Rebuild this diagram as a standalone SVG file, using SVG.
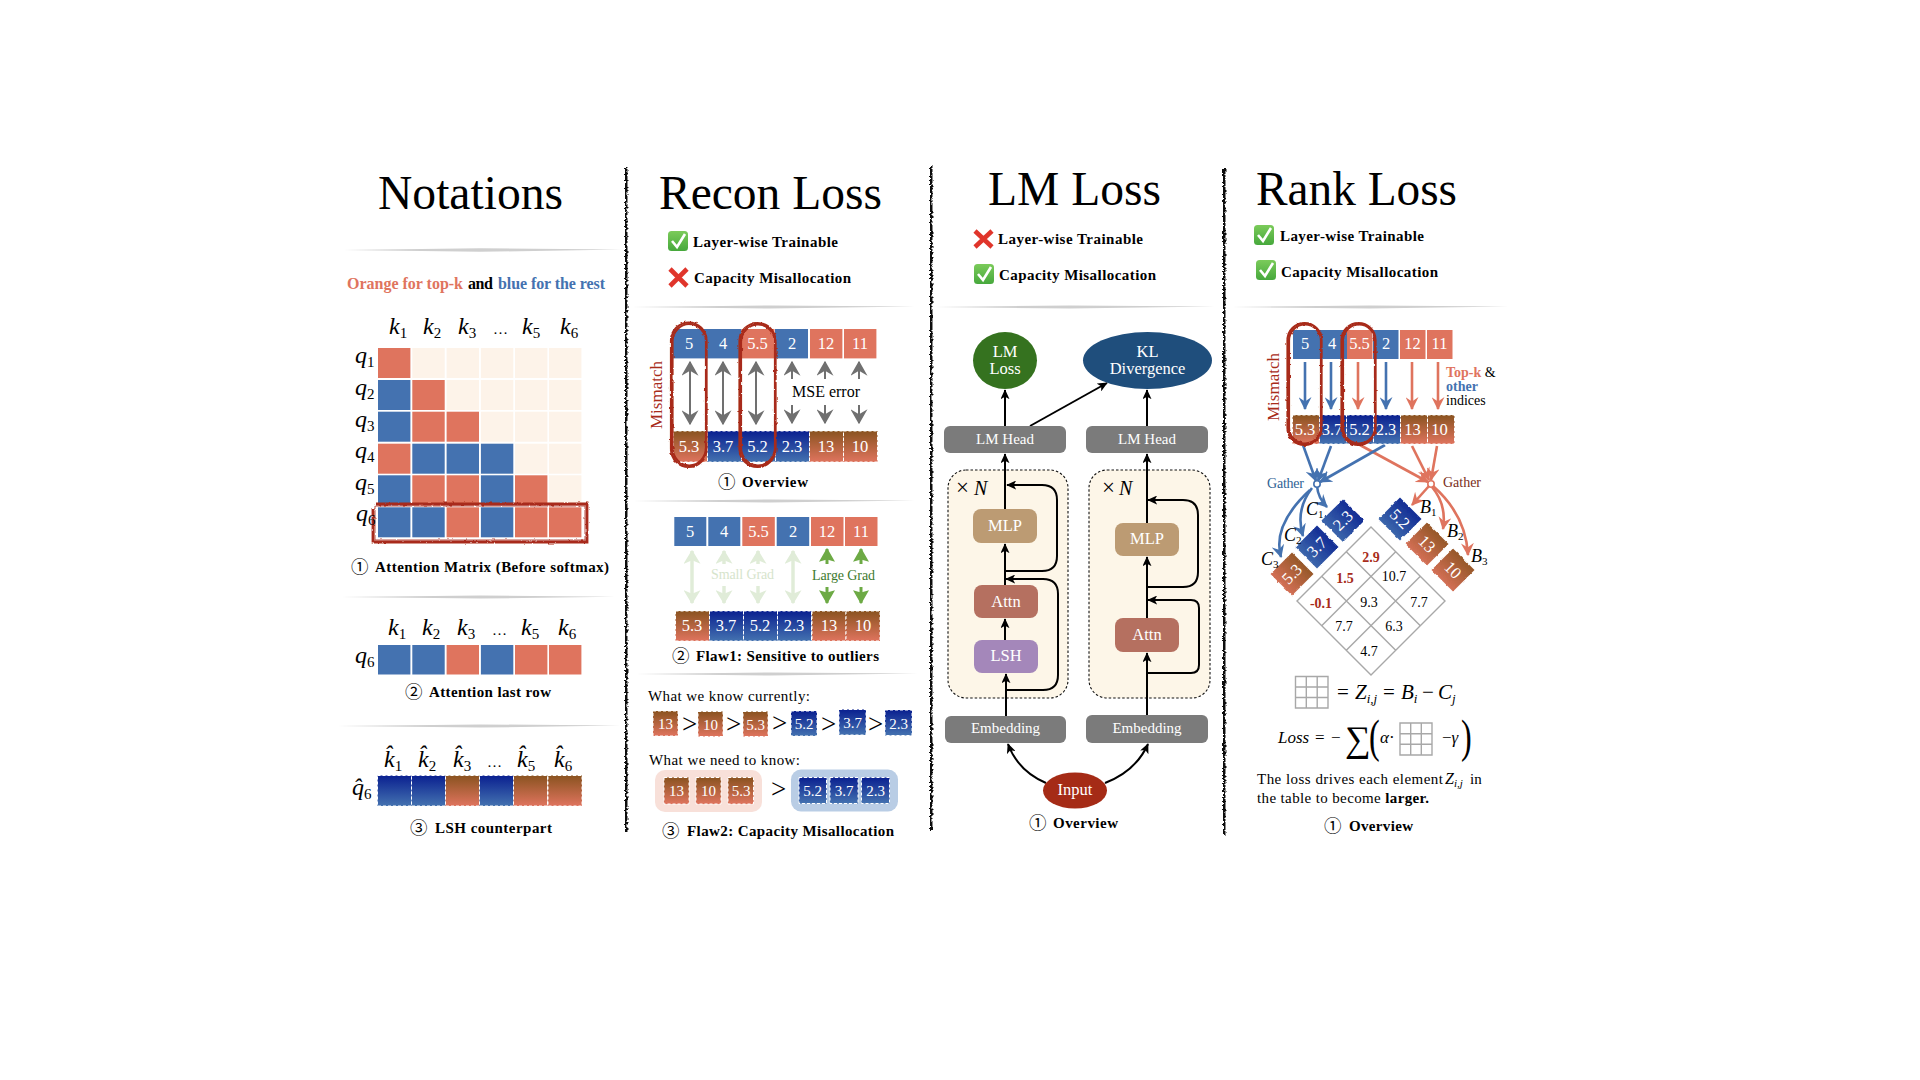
<svg xmlns="http://www.w3.org/2000/svg" width="1920" height="1080" viewBox="0 0 1920 1080">
<defs>
<style>
text{font-family:"Liberation Serif","Noto Sans CJK SC",serif;fill:#000}
.t{font-size:48px}
.b{font-size:15px;font-weight:bold}
.n{font-family:"Noto Sans CJK SC","Liberation Serif",sans-serif;font-size:17.5px}
.r{font-size:15px}
.m{font-size:24px;font-style:italic}
.ms{font-size:15px;font-style:normal}
.w{fill:#fff;text-anchor:middle;font-size:16.5px}
.wb{fill:#fff;text-anchor:middle;font-size:15px}
.o{fill:#DF745E}.bl{fill:#4472B0}.cr{fill:#FDF3E9}
.go{fill:url(#gO);stroke:#fff;stroke-width:1;stroke-dasharray:3 2}
.gb{fill:url(#gB);stroke:#fff;stroke-width:1;stroke-dasharray:3 2}
.do{fill:url(#dO)}.db{fill:url(#dB)}
.box{fill:#7B7B7B}
.cont{fill:#FDF6E8;stroke:#111;stroke-width:1.1;stroke-dasharray:2.5 2}
.conn{fill:none;stroke:#000;stroke-width:2;marker-end:url(#mK)}
.g{stroke:#707070;stroke-width:2;fill:none;marker-end:url(#mG)}
.gd{stroke:#707070;stroke-width:2;fill:none;marker-end:url(#mG);marker-start:url(#mG)}
.lg{stroke:#E0ECD8;stroke-width:3.5;fill:none;marker-end:url(#mL)}
.lgd{stroke:#E0ECD8;stroke-width:3.5;fill:none;marker-end:url(#mL);marker-start:url(#mL)}
.dg{stroke:#6DAA45;stroke-width:3;fill:none;marker-end:url(#mD)}
.ab{stroke:#4472B0;stroke-width:2.6;fill:none;marker-end:url(#mB)}
.ao{stroke:#DF745E;stroke-width:2.6;fill:none;marker-end:url(#mO)}
.loop{fill:none;stroke:#A82C1A;stroke-width:2.2}
.gl{stroke:#A8A8A8;stroke-width:1.4;fill:none}
.d{font-size:14px;text-anchor:middle}
.dr{font-size:14px;text-anchor:middle;font-weight:bold;fill:#A82C1A}
</style>
<linearGradient id="gO" x1="0" y1="0" x2="0" y2="1"><stop offset="0" stop-color="#8A5320"/><stop offset="1" stop-color="#DF745E"/></linearGradient>
<linearGradient id="gB" x1="0" y1="0" x2="0" y2="1"><stop offset="0" stop-color="#0A2090"/><stop offset="1" stop-color="#4472B0"/></linearGradient>
<linearGradient id="dO" x1="0.85" y1="0.15" x2="0.15" y2="0.85"><stop offset="0" stop-color="#8A5320"/><stop offset="1" stop-color="#DF745E"/></linearGradient>
<linearGradient id="dB" x1="0.85" y1="0.15" x2="0.15" y2="0.85"><stop offset="0" stop-color="#0A2090"/><stop offset="1" stop-color="#4472B0"/></linearGradient>
<linearGradient id="chk" x1="0" y1="0" x2="0" y2="1"><stop offset="0" stop-color="#7BCB5A"/><stop offset="1" stop-color="#46A83C"/></linearGradient>
<marker id="mK" markerUnits="userSpaceOnUse" viewBox="0 0 12 10" refX="11" refY="5" markerWidth="10" markerHeight="9" orient="auto-start-reverse" preserveAspectRatio="none"><path d="M12,5 L0,0 L3,5 L0,10 Z" fill="#000"/></marker>
<marker id="mG" markerUnits="userSpaceOnUse" viewBox="0 0 12 10" refX="11" refY="5" markerWidth="15" markerHeight="17" orient="auto-start-reverse" preserveAspectRatio="none"><path d="M12,5 L0,0 L4,5 L0,10 Z" fill="#707070"/></marker>
<marker id="mL" markerUnits="userSpaceOnUse" viewBox="0 0 12 10" refX="11" refY="5" markerWidth="14" markerHeight="17" orient="auto-start-reverse" preserveAspectRatio="none"><path d="M12,5 L0,0 L3,5 L0,10 Z" fill="#E0ECD8"/></marker>
<marker id="mD" markerUnits="userSpaceOnUse" viewBox="0 0 12 10" refX="11" refY="5" markerWidth="14" markerHeight="16" orient="auto-start-reverse" preserveAspectRatio="none"><path d="M12,5 L0,0 L2,5 L0,10 Z" fill="#6DAA45"/></marker>
<marker id="mB" markerUnits="userSpaceOnUse" viewBox="0 0 12 10" refX="11" refY="5" markerWidth="13" markerHeight="13" orient="auto" preserveAspectRatio="none"><path d="M12,5 L0,0 L4,5 L0,10 Z" fill="#4472B0"/></marker>
<marker id="mO" markerUnits="userSpaceOnUse" viewBox="0 0 12 10" refX="11" refY="5" markerWidth="13" markerHeight="13" orient="auto" preserveAspectRatio="none"><path d="M12,5 L0,0 L4,5 L0,10 Z" fill="#DF745E"/></marker>
<filter id="rough" filterUnits="userSpaceOnUse" x="0" y="0" width="1920" height="1080"><feTurbulence type="fractalNoise" baseFrequency="0.25 0.25" numOctaves="2" seed="3"/><feDisplacementMap in="SourceGraphic" scale="2.5" xChannelSelector="R" yChannelSelector="G"/></filter>
<filter id="bar" filterUnits="userSpaceOnUse" x="0" y="0" width="1920" height="1080"><feTurbulence type="fractalNoise" baseFrequency="0.2 0.5" numOctaves="3" seed="8"/><feDisplacementMap in="SourceGraphic" scale="4" xChannelSelector="R" yChannelSelector="G"/></filter>
<filter id="soft" filterUnits="userSpaceOnUse" x="0" y="0" width="1920" height="1080"><feGaussianBlur stdDeviation="0.7"/></filter>
</defs>
<rect width="1920" height="1080" fill="#fff"/>

<g id="panel-rules" filter="url(#bar)" fill="#111">
<rect x="625" y="168" width="2.5" height="665"/>
<rect x="930" y="165" width="2.5" height="665"/>
<rect x="1223" y="168" width="2.5" height="667"/>
</g>
<g id="dividers" filter="url(#soft)" fill="#CFCFCF">
<path d="M343,250 L480,248.3 L622,249.6 L480,251.8Z"/>
<path d="M341,597 L480,595.4 L615,596.8 L480,598.6Z"/>
<path d="M337,726 L480,724.4 L620,725.6 L480,727.6Z"/>
<path d="M632,307 L770,305.4 L915,306.6 L770,308.6Z"/>
<path d="M633,501 L770,499.4 L915,500.6 L770,502.6Z"/>
<path d="M636,674 L770,672.4 L918,673.6 L770,675.6Z"/>
<path d="M935,307 L1070,305.4 L1215,306.6 L1070,308.6Z"/>
<path d="M1232,307 L1370,305.4 L1508,306.6 L1370,308.6Z"/>
</g>

<g id="notations">
<text class="t" x="378" y="209" textLength="185" lengthAdjust="spacingAndGlyphs">Notations</text>
<text class="b" x="347" y="289" font-size="16" textLength="116" style="fill:#DF745E;font-size:16px">Orange for top-k</text>
<text class="b" x="468" y="289" textLength="25" style="font-size:16px">and</text>
<text class="b" x="498" y="289" textLength="107" style="fill:#4472B0;font-size:16px">blue for the rest</text>

<g id="matrix">
<rect class="o" x="378" y="348" width="32.4" height="30"/><rect class="cr" x="412.3" y="348" width="32.4" height="30"/><rect class="cr" x="446.6" y="348" width="32.4" height="30"/><rect class="cr" x="480.9" y="348" width="32.4" height="30"/><rect class="cr" x="515" y="348" width="32.4" height="30"/><rect class="cr" x="549" y="348" width="32.4" height="30"/>
<rect class="bl" x="378" y="380" width="32.4" height="30"/><rect class="o" x="412.3" y="380" width="32.4" height="30"/><rect class="cr" x="446.6" y="380" width="32.4" height="30"/><rect class="cr" x="480.9" y="380" width="32.4" height="30"/><rect class="cr" x="515" y="380" width="32.4" height="30"/><rect class="cr" x="549" y="380" width="32.4" height="30"/>
<rect class="bl" x="378" y="411.7" width="32.4" height="30"/><rect class="o" x="412.3" y="411.7" width="32.4" height="30"/><rect class="o" x="446.6" y="411.7" width="32.4" height="30"/><rect class="cr" x="480.9" y="411.7" width="32.4" height="30"/><rect class="cr" x="515" y="411.7" width="32.4" height="30"/><rect class="cr" x="549" y="411.7" width="32.4" height="30"/>
<rect class="o" x="378" y="443.7" width="32.4" height="30"/><rect class="bl" x="412.3" y="443.7" width="32.4" height="30"/><rect class="bl" x="446.6" y="443.7" width="32.4" height="30"/><rect class="bl" x="480.9" y="443.7" width="32.4" height="30"/><rect class="cr" x="515" y="443.7" width="32.4" height="30"/><rect class="cr" x="549" y="443.7" width="32.4" height="30"/>
<rect class="bl" x="378" y="475.3" width="32.4" height="30"/><rect class="o" x="412.3" y="475.3" width="32.4" height="30"/><rect class="o" x="446.6" y="475.3" width="32.4" height="30"/><rect class="bl" x="480.9" y="475.3" width="32.4" height="30"/><rect class="o" x="515" y="475.3" width="32.4" height="30"/><rect class="cr" x="549" y="475.3" width="32.4" height="30"/>
<rect class="bl" x="378" y="507.3" width="32.4" height="30"/><rect class="bl" x="412.3" y="507.3" width="32.4" height="30"/><rect class="o" x="446.6" y="507.3" width="32.4" height="30"/><rect class="bl" x="480.9" y="507.3" width="32.4" height="30"/><rect class="o" x="515" y="507.3" width="32.4" height="30"/><rect class="o" x="549" y="507.3" width="32.4" height="30"/>
<g filter="url(#rough)" fill="none" stroke="#A82C1A"><path d="M376,504 H587 V542 H373 V508" stroke-width="2.8"/><rect x="375" y="506" width="210" height="34" stroke-width="0.8"/></g>
</g>
<text class="m" x="389" y="334">k<tspan class="ms" dy="4">1</tspan></text>
<text class="m" x="423" y="334">k<tspan class="ms" dy="4">2</tspan></text>
<text class="m" x="458" y="334">k<tspan class="ms" dy="4">3</tspan></text>
<text x="493" y="334" style="font-size:15px">…</text>
<text class="m" x="522" y="334">k<tspan class="ms" dy="4">5</tspan></text>
<text class="m" x="560" y="334">k<tspan class="ms" dy="4">6</tspan></text>
<text class="m" x="355" y="363">q<tspan class="ms" dy="4">1</tspan></text>
<text class="m" x="355" y="395">q<tspan class="ms" dy="4">2</tspan></text>
<text class="m" x="355" y="427">q<tspan class="ms" dy="4">3</tspan></text>
<text class="m" x="355" y="458">q<tspan class="ms" dy="4">4</tspan></text>
<text class="m" x="355" y="490">q<tspan class="ms" dy="4">5</tspan></text>
<text class="m" x="356" y="521">q<tspan class="ms" dy="4">6</tspan></text>
<text class="n" x="351" y="573">①</text>
<text class="b" x="375" y="572" textLength="234">Attention Matrix (Before softmax)</text>

<text class="m" x="388" y="635">k<tspan class="ms" dy="4">1</tspan></text>
<text class="m" x="422" y="635">k<tspan class="ms" dy="4">2</tspan></text>
<text class="m" x="457" y="635">k<tspan class="ms" dy="4">3</tspan></text>
<text x="492" y="635" style="font-size:15px">…</text>
<text class="m" x="521" y="635">k<tspan class="ms" dy="4">5</tspan></text>
<text class="m" x="558" y="635">k<tspan class="ms" dy="4">6</tspan></text>
<text class="m" x="355" y="663">q<tspan class="ms" dy="4">6</tspan></text>
<g id="last-row">
<rect class="bl" x="378" y="645" width="32.4" height="29.5"/><rect class="bl" x="412.3" y="645" width="32.4" height="29.5"/><rect class="o" x="446.6" y="645" width="32.4" height="29.5"/><rect class="bl" x="480.9" y="645" width="32.4" height="29.5"/><rect class="o" x="515" y="645" width="32.4" height="29.5"/><rect class="o" x="549" y="645" width="32.4" height="29.5"/>
</g>
<text class="n" x="405" y="698">②</text>
<text class="b" x="429" y="697" textLength="122">Attention last row</text>

<text class="m" x="384" y="767">k̂<tspan class="ms" dy="4">1</tspan></text>
<text class="m" x="418" y="767">k̂<tspan class="ms" dy="4">2</tspan></text>
<text class="m" x="453" y="767">k̂<tspan class="ms" dy="4">3</tspan></text>
<text x="487" y="767" style="font-size:15px">…</text>
<text class="m" x="517" y="767">k̂<tspan class="ms" dy="4">5</tspan></text>
<text class="m" x="554" y="767">k̂<tspan class="ms" dy="4">6</tspan></text>
<text class="m" x="352" y="795">q̂<tspan class="ms" dy="4">6</tspan></text>
<g id="lsh-row">
<rect class="gb" x="377.5" y="775.5" width="34" height="30.5"/><rect class="gb" x="411.5" y="775.5" width="34" height="30.5"/><rect class="go" x="445.5" y="775.5" width="34" height="30.5"/><rect class="gb" x="479.5" y="775.5" width="34" height="30.5"/><rect class="go" x="513.5" y="775.5" width="34" height="30.5"/><rect class="go" x="548" y="775.5" width="34" height="30.5"/>
</g>
<text class="n" x="410" y="834">③</text>
<text class="b" x="435" y="833" textLength="117">LSH counterpart</text>
</g>

<g id="recon-loss">
<text class="t" x="659" y="209" textLength="223" lengthAdjust="spacingAndGlyphs">Recon Loss</text>
<g id="rc-check"><rect x="668" y="231" width="20" height="20" rx="3.5" fill="url(#chk)"/><path d="M672,241 L677,247 L685,234" fill="none" stroke="#fff" stroke-width="2.6"/></g>
<text class="b" x="693" y="247" textLength="145">Layer-wise Trainable</text>
<g id="rc-cross" stroke="#E0352B" stroke-width="4.6"><path d="M670,269 L687,286 M687,269 L670,286"/></g>
<text class="b" x="694" y="283" textLength="157">Capacity Misallocation</text>

<g id="rc-overview">
<rect class="bl" x="673" y="329" width="33" height="29.4"/><rect class="bl" x="706" y="329" width="35.5" height="29.4"/><rect class="o" x="741.5" y="329" width="33" height="29.4"/><rect class="bl" x="775" y="329" width="33" height="29.4"/><rect class="o" x="810" y="329" width="32.4" height="29.4"/><rect class="o" x="844" y="329" width="32.4" height="29.4"/>
<text class="w" x="689" y="349">5</text><text class="w" x="723" y="349">4</text><text class="w" x="757.5" y="349">5.5</text><text class="w" x="792" y="349">2</text><text class="w" x="826" y="349">12</text><text class="w" x="860" y="349">11</text>
<rect class="go" x="673.5" y="431" width="34" height="31"/><rect class="gb" x="707.5" y="431" width="34" height="31"/><rect class="gb" x="741.5" y="431" width="34" height="31"/><rect class="gb" x="775.5" y="431" width="34" height="31"/><rect class="go" x="809.5" y="431" width="34" height="31"/><rect class="go" x="843.5" y="431" width="34" height="31"/>
<text class="w" x="689" y="452">5.3</text><text class="w" x="723" y="452">3.7</text><text class="w" x="757.5" y="452">5.2</text><text class="w" x="792" y="452">2.3</text><text class="w" x="826" y="452">13</text><text class="w" x="860" y="452">10</text>
<g id="rc-arrows">
<path class="gd" d="M690,362 V424"/><path class="gd" d="M723,362 V424"/><path class="gd" d="M756,362 V424"/>
<path class="g" d="M792,379 V362"/><path class="g" d="M825,379 V362"/><path class="g" d="M859,379 V362"/>
<path class="g" d="M792,405 V423"/><path class="g" d="M825,405 V423"/><path class="g" d="M859,405 V423"/>
</g>
<text x="792" y="397" font-size="16" textLength="68">MSE error</text>
<g filter="url(#rough)"><rect class="loop" x="671" y="322.5" width="35.5" height="144.5" rx="18"/><rect class="loop" x="672.5" y="324" width="33.5" height="141.5" rx="18"/><rect class="loop" x="739.5" y="323" width="36" height="144" rx="18"/><rect class="loop" x="741" y="324.5" width="34" height="141" rx="18"/></g>
<text transform="translate(662,395) rotate(-90)" font-size="17" text-anchor="middle" style="fill:#A82C1A">Mismatch</text>
<text class="n" x="718" y="488">①</text>
<text class="b" x="742" y="487" textLength="66">Overview</text>
</g>

<g id="rc-flaw1">
<rect class="bl" x="674.3" y="517" width="32" height="29"/><rect class="bl" x="708.3" y="517" width="32" height="29"/><rect class="o" x="742.3" y="517" width="32.5" height="29"/><rect class="bl" x="776.7" y="517" width="32.5" height="29"/><rect class="o" x="811" y="517" width="32.5" height="29"/><rect class="o" x="845" y="517" width="32.5" height="29"/>
<text class="w" x="690" y="537">5</text><text class="w" x="724" y="537">4</text><text class="w" x="758.5" y="537">5.5</text><text class="w" x="793" y="537">2</text><text class="w" x="827" y="537">12</text><text class="w" x="861" y="537">11</text>
<rect class="go" x="675.5" y="611" width="34" height="30"/><rect class="gb" x="709.5" y="611" width="34" height="30"/><rect class="gb" x="743.5" y="611" width="34" height="30"/><rect class="gb" x="777.5" y="611" width="34" height="30"/><rect class="go" x="812" y="611" width="34" height="30"/><rect class="go" x="846" y="611" width="34" height="30"/>
<text class="w" x="692" y="631">5.3</text><text class="w" x="726" y="631">3.7</text><text class="w" x="760" y="631">5.2</text><text class="w" x="794" y="631">2.3</text><text class="w" x="829" y="631">13</text><text class="w" x="863" y="631">10</text>
<g id="rc-grad-arrows">
<path class="lgd" d="M692,551 V603"/><path class="lgd" d="M793,551 V603"/>
<path class="lg" d="M724,564 V551"/><path class="lg" d="M724,586 V603"/>
<path class="lg" d="M758,564 V551"/><path class="lg" d="M758,586 V603"/>
<path class="dg" d="M827,564 V549"/><path class="dg" d="M827,587 V603"/>
<path class="dg" d="M861,564 V549"/><path class="dg" d="M861,587 V603"/>
</g>
<text x="711" y="579" font-size="14" textLength="63" style="fill:#D6E4CC">Small Grad</text>
<text x="812" y="580" font-size="14" textLength="63" style="fill:#3E7A2E">Large Grad</text>
<text class="n" x="672" y="662">②</text>
<text class="b" x="696" y="661" textLength="183">Flaw1: Sensitive to outliers</text>
</g>

<g id="rc-flaw2">
<text class="r" x="648" y="701" textLength="162">What we know currently:</text>
<rect class="go" x="653" y="711" width="25" height="25"/><text class="wb" x="665.5" y="729">13</text>
<text x="682" y="733" font-size="27">&gt;</text>
<rect class="go" x="698" y="711.5" width="25" height="25"/><text class="wb" x="710.5" y="730">10</text>
<text x="726" y="733" font-size="27">&gt;</text>
<rect class="go" x="743" y="711.5" width="25" height="25"/><text class="wb" x="755.5" y="730">5.3</text>
<text x="772" y="732" font-size="27">&gt;</text>
<rect class="gb" x="791" y="711" width="26" height="25"/><text class="wb" x="804" y="729">5.2</text>
<text x="821" y="733" font-size="27">&gt;</text>
<rect class="gb" x="839" y="709.5" width="27" height="25.5"/><text class="wb" x="852.5" y="728">3.7</text>
<text x="868" y="733" font-size="27">&gt;</text>
<rect class="gb" x="885" y="710" width="27" height="25.5"/><text class="wb" x="898.5" y="728.5">2.3</text>
<text class="r" x="649" y="765" textLength="151">What we need to know:</text>
<rect x="655" y="770" width="107" height="42" rx="10" fill="#F8E0D9"/>
<rect x="791" y="769.5" width="107" height="42" rx="10" fill="#B9CDE5"/>
<rect class="go" x="664" y="777.5" width="25" height="26.5"/><text class="wb" x="676.5" y="796">13</text>
<rect class="go" x="696" y="777.5" width="25" height="26.5"/><text class="wb" x="708.5" y="796">10</text>
<rect class="go" x="728" y="777.5" width="25.5" height="26.5"/><text class="wb" x="741" y="796">5.3</text>
<text x="771" y="798" font-size="27">&gt;</text>
<rect class="gb" x="799" y="777.5" width="27.5" height="26"/><text class="wb" x="812.5" y="796">5.2</text>
<rect class="gb" x="830" y="777.5" width="28" height="26"/><text class="wb" x="844" y="796">3.7</text>
<rect class="gb" x="861.5" y="777.5" width="28" height="26"/><text class="wb" x="875.5" y="796">2.3</text>
<text class="n" x="662" y="837">③</text>
<text class="b" x="687" y="836" textLength="207">Flaw2: Capacity Misallocation</text>
</g>
</g>

<g id="lm-loss">
<text class="t" x="988" y="205" textLength="173" lengthAdjust="spacingAndGlyphs">LM Loss</text>
<g id="lm-cross" stroke="#E0352B" stroke-width="4.6"><path d="M975,231 L992,247 M992,231 L975,247"/></g>
<text class="b" x="998" y="244" textLength="145">Layer-wise Trainable</text>
<g id="lm-check"><rect x="974" y="264" width="20" height="20" rx="3.5" fill="url(#chk)"/><path d="M978,274 L983,280 L991,267" fill="none" stroke="#fff" stroke-width="2.6"/></g>
<text class="b" x="999" y="280" textLength="157">Capacity Misallocation</text>

<rect id="container-left" class="cont" x="948" y="470" width="120" height="228" rx="18"/>
<rect id="container-right" class="cont" x="1089" y="470" width="121" height="228" rx="18"/>
<text x="956" y="495" font-size="23">×</text><text x="974" y="495" font-size="20" font-style="italic">N</text>
<text x="1102" y="495" font-size="23">×</text><text x="1119" y="495" font-size="20" font-style="italic">N</text>

<g id="connectors">
<path class="conn" d="M1005,426 V390"/>
<path class="conn" d="M1147,426 V390"/>
<path class="conn" d="M1030,426 L1107,383"/>
<path class="conn" d="M1005,509 V454"/>
<path class="conn" d="M1147,523 V454"/>
<path class="conn" d="M1005,585 V544"/>
<path class="conn" d="M1005,640 V619"/>
<path class="conn" d="M1006,716 V674"/>
<path class="conn" d="M1147,618 V557"/>
<path class="conn" d="M1147,715 V653"/>
<path class="conn" d="M1005,571 H1042 Q1057,571 1057,556 V500 Q1057,485 1042,485 H1007"/>
<path class="conn" d="M1007,690 H1043 Q1058,690 1058,675 V594 Q1058,579 1043,579 H1006"/>
<path class="conn" d="M1147,587 H1183 Q1198,587 1198,572 V515 Q1198,500 1183,500 H1148"/>
<path class="conn" d="M1147,673 H1191 Q1199,673 1199,665 V608 Q1199,600 1191,600 H1148"/>
<path class="conn" d="M1046,783 Q1018,771 1008,744"/>
<path class="conn" d="M1105,783 Q1136,771 1148,744"/>
</g>

<g id="n-lmloss"><ellipse cx="1005" cy="360.5" rx="32" ry="28.5" fill="#35721F"/><text class="w" x="1005" y="357">LM</text><text class="w" x="1005" y="374">Loss</text></g>
<g id="n-kl"><ellipse cx="1147.5" cy="360.5" rx="64.5" ry="28.5" fill="#1F4E7C"/><text class="w" x="1147.5" y="357">KL</text><text class="w" x="1147.5" y="374">Divergence</text></g>
<g id="n-head1"><rect class="box" x="944" y="426" width="122" height="27" rx="6"/><text class="wb" x="1005" y="444">LM Head</text></g>
<g id="n-head2"><rect class="box" x="1086" y="426" width="122" height="27" rx="6"/><text class="wb" x="1147" y="444">LM Head</text></g>
<g id="n-mlp1"><rect x="973" y="509" width="64" height="34" rx="8" fill="#BC9B73"/><text class="w" x="1005" y="531">MLP</text></g>
<g id="n-attn1"><rect x="974" y="585" width="64" height="33" rx="8" fill="#B57060"/><text class="w" x="1006" y="607">Attn</text></g>
<g id="n-lsh"><rect x="974" y="640" width="64" height="33" rx="8" fill="#A487BA"/><text class="w" x="1006" y="661">LSH</text></g>
<g id="n-emb1"><rect class="box" x="945" y="716" width="121" height="27" rx="6"/><text class="wb" x="1005.5" y="733">Embedding</text></g>
<g id="n-mlp2"><rect x="1115" y="523" width="64" height="33" rx="8" fill="#BC9B73"/><text class="w" x="1147" y="544">MLP</text></g>
<g id="n-attn2"><rect x="1115" y="618" width="64" height="34" rx="8" fill="#B57060"/><text class="w" x="1147" y="640">Attn</text></g>
<g id="n-emb2"><rect class="box" x="1086" y="715" width="122" height="28" rx="6"/><text class="wb" x="1147" y="733">Embedding</text></g>
<g id="n-input"><ellipse cx="1075" cy="790.5" rx="32" ry="18" fill="#A52B16"/><text class="w" x="1075" y="795">Input</text></g>
<text class="n" x="1029" y="829">①</text>
<text class="b" x="1053" y="828" textLength="65">Overview</text>
</g>

<g id="rank-loss">
<text class="t" x="1256" y="205" textLength="201" lengthAdjust="spacingAndGlyphs">Rank Loss</text>
<g id="rk-check1"><rect x="1254" y="225" width="20" height="20" rx="3.5" fill="url(#chk)"/><path d="M1258,235 L1263,241 L1271,228" fill="none" stroke="#fff" stroke-width="2.6"/></g>
<text class="b" x="1280" y="241" textLength="144">Layer-wise Trainable</text>
<g id="rk-check2"><rect x="1256" y="260" width="20" height="20" rx="3.5" fill="url(#chk)"/><path d="M1260,270 L1265,276 L1273,263" fill="none" stroke="#fff" stroke-width="2.6"/></g>
<text class="b" x="1281" y="276.5" textLength="157">Capacity Misallocation</text>

<g id="rk-connectors">
<path class="ab" d="M1305,362 V409"/><path class="ab" d="M1331,362 V409"/><path class="ao" d="M1358,362 V409"/><path class="ab" d="M1386,362 V409"/><path class="ao" d="M1412,362 V409"/><path class="ao" d="M1438,362 V409"/>
<path class="ao" d="M1360,445 L1428,482"/><path class="ao" d="M1412,446 L1429,480"/><path class="ao" d="M1437,446 L1431,480"/>
<path class="ab" d="M1303,445 L1316,481"/><path class="ab" d="M1331,446 L1318,481"/><path class="ab" d="M1385,445 L1320,482"/>
<path class="ab" d="M1317,486 Q1318,498 1327,507"/>
<path class="ab" d="M1312,488 Q1295,510 1303,536"/>
<path class="ab" d="M1310,490 Q1272,525 1281,557"/>
<path class="ao" d="M1429,486 L1412,505"/>
<path class="ao" d="M1432,487 Q1447,505 1443,529"/>
<path class="ao" d="M1433,486 Q1466,515 1468,555"/>
</g>
<circle id="gather-blue" cx="1317" cy="484" r="3.2" fill="#fff" stroke="#4472B0" stroke-width="1.6"/>
<circle id="gather-orange" cx="1431" cy="484" r="3.2" fill="#fff" stroke="#DF745E" stroke-width="1.6"/>

<rect class="bl" x="1293" y="330" width="27" height="29"/><rect class="bl" x="1320" y="330" width="27" height="29"/><rect class="o" x="1347" y="330" width="25.5" height="29"/><rect class="bl" x="1373" y="330" width="25.5" height="29"/><rect class="o" x="1400" y="330" width="25.5" height="29"/><rect class="o" x="1427" y="330" width="25.5" height="29"/>
<text class="w" x="1305" y="349">5</text><text class="w" x="1332" y="349">4</text><text class="w" x="1359.5" y="349">5.5</text><text class="w" x="1386" y="349">2</text><text class="w" x="1412.5" y="349">12</text><text class="w" x="1439.5" y="349">11</text>
<rect class="go" x="1292.5" y="415" width="27" height="29"/><rect class="gb" x="1319.5" y="415" width="27" height="29"/><rect class="gb" x="1346.5" y="415" width="27" height="29"/><rect class="gb" x="1373.5" y="415" width="27" height="29"/><rect class="go" x="1400.5" y="415" width="27" height="29"/><rect class="go" x="1427.5" y="415" width="27" height="29"/>
<text class="w" x="1305" y="435">5.3</text><text class="w" x="1332" y="435">3.7</text><text class="w" x="1359.5" y="435">5.2</text><text class="w" x="1386" y="435">2.3</text><text class="w" x="1412.5" y="435">13</text><text class="w" x="1439.5" y="435">10</text>
<g filter="url(#rough)"><rect class="loop" x="1287.5" y="323" width="34" height="122" rx="17"/><rect class="loop" x="1289" y="324.5" width="32" height="119" rx="16"/><rect class="loop" x="1341.5" y="323" width="34" height="122" rx="17"/><rect class="loop" x="1343" y="324.5" width="32" height="119" rx="16"/></g>
<text transform="translate(1279,387) rotate(-90)" font-size="17" text-anchor="middle" style="fill:#A82C1A">Mismatch</text>
<text x="1446" y="377" font-size="14"><tspan font-weight="bold" style="fill:#DF745E">Top-k</tspan> &amp;</text>
<text x="1446" y="391" font-size="14" font-weight="bold" style="fill:#4472B0">other</text>
<text x="1446" y="405" font-size="14">indices</text>
<text x="1267" y="488" font-size="14" textLength="37" style="fill:#2F6395">Gather</text>
<text x="1443" y="487" font-size="14" textLength="38" style="fill:#7A2E20">Gather</text>

<g id="rk-diamonds" filter="url(#rough)">
<polygon class="db" points="1343,499.5 1364.5,520.5 1343,542 1321.5,520.5"/>
<polygon class="db" points="1317,525.5 1338.5,547 1317,568.5 1295.5,547"/>
<polygon class="do" points="1292,552.5 1313.5,574 1292,595.5 1270.5,574"/>
<polygon class="db" points="1400,497.5 1421.5,519 1400,540.5 1378.5,519"/>
<polygon class="do" points="1427,522.5 1448.5,544 1427,565.5 1405.5,544"/>
<polygon class="do" points="1453,548.5 1474.5,570 1453,591.5 1431.5,570"/>
</g>
<text class="w" transform="translate(1343,520.5) rotate(-45)" y="5.5">2.3</text>
<text class="w" transform="translate(1317,547) rotate(-45)" y="5.5">3.7</text>
<text class="w" transform="translate(1292,574) rotate(-45)" y="5.5">5.3</text>
<text class="w" transform="translate(1400,519) rotate(45)" y="5.5">5.2</text>
<text class="w" transform="translate(1427,544) rotate(45)" y="5.5">13</text>
<text class="w" transform="translate(1453,570) rotate(45)" y="5.5">10</text>
<text x="1306" y="515" font-size="18" font-style="italic">C<tspan font-size="11" font-style="normal" dy="3">1</tspan></text>
<text x="1284" y="541" font-size="18" font-style="italic">C<tspan font-size="11" font-style="normal" dy="3">2</tspan></text>
<text x="1261" y="565" font-size="18" font-style="italic">C<tspan font-size="11" font-style="normal" dy="3">3</tspan></text>
<text x="1420" y="513" font-size="18" font-style="italic">B<tspan font-size="11" font-style="normal" dy="3">1</tspan></text>
<text x="1447" y="537" font-size="18" font-style="italic">B<tspan font-size="11" font-style="normal" dy="3">2</tspan></text>
<text x="1471" y="562" font-size="18" font-style="italic">B<tspan font-size="11" font-style="normal" dy="3">3</tspan></text>

<g id="rk-table">
<path class="gl" d="M1371,527 L1445,601 L1371,675 L1297,601 Z M1395.67,551.67 L1321.67,625.67 M1420.33,576.33 L1346.33,650.33 M1346.33,551.67 L1420.33,625.67 M1321.67,576.33 L1395.67,650.33"/>
<text class="dr" x="1371" y="562">2.9</text>
<text class="dr" x="1345" y="583">1.5</text>
<text class="d" x="1394" y="581">10.7</text>
<text class="dr" x="1321" y="608">-0.1</text>
<text class="d" x="1369" y="607">9.3</text>
<text class="d" x="1419" y="607">7.7</text>
<text class="d" x="1344" y="631">7.7</text>
<text class="d" x="1394" y="631">6.3</text>
<text class="d" x="1369" y="656">4.7</text>
</g>
<g id="rk-grid1"><path class="gl" d="M1295.5,676.5 H1328 V708 H1295.5 Z M1306.3,676.5 V708 M1317.2,676.5 V708 M1295.5,687 H1328 M1295.5,697.5 H1328"/></g>
<text x="1337" y="699" font-size="21">=</text>
<text x="1355" y="699" font-size="21" font-style="italic">Z<tspan font-size="13" dy="4">i,j</tspan></text>
<text x="1383" y="699" font-size="21">=</text>
<text x="1401" y="699" font-size="21" font-style="italic">B<tspan font-size="13" dy="4">i</tspan></text>
<text x="1422" y="699" font-size="21">−</text>
<text x="1438" y="699" font-size="21" font-style="italic">C<tspan font-size="13" dy="4">j</tspan></text>

<text x="1278" y="743" font-size="17" font-style="italic">Loss</text>
<text x="1315" y="743" font-size="17">=</text>
<text x="1331" y="743" font-size="17">−</text>
<text x="1345" y="751" font-size="36">∑</text>
<text transform="translate(1369,752) scale(0.7,1)" x="0" y="0" font-size="46">(</text>
<text x="1380" y="743" font-size="17" font-style="italic">α<tspan font-style="normal">·</tspan></text>
<g id="rk-grid2"><path class="gl" d="M1400,723 H1432 V755 H1400 Z M1410.7,723 V755 M1421.3,723 V755 M1400,733.7 H1432 M1400,744.3 H1432"/></g>
<text x="1442" y="743" font-size="17">−<tspan font-style="italic">γ</tspan></text>
<text transform="translate(1461,752) scale(0.7,1)" x="0" y="0" font-size="46">)</text>

<text class="r" x="1257" y="784" textLength="186">The loss drives each element</text>
<text x="1445" y="784" font-size="16" font-style="italic">Z<tspan font-size="11" dy="3">i,j</tspan></text>
<text class="r" x="1470" y="784">in</text>
<text class="r" x="1257" y="803" textLength="172">the table to become <tspan font-weight="bold">larger.</tspan></text>
<text class="n" x="1324" y="832">①</text>
<text class="b" x="1349" y="831" textLength="64">Overview</text>
</g>
</svg>
